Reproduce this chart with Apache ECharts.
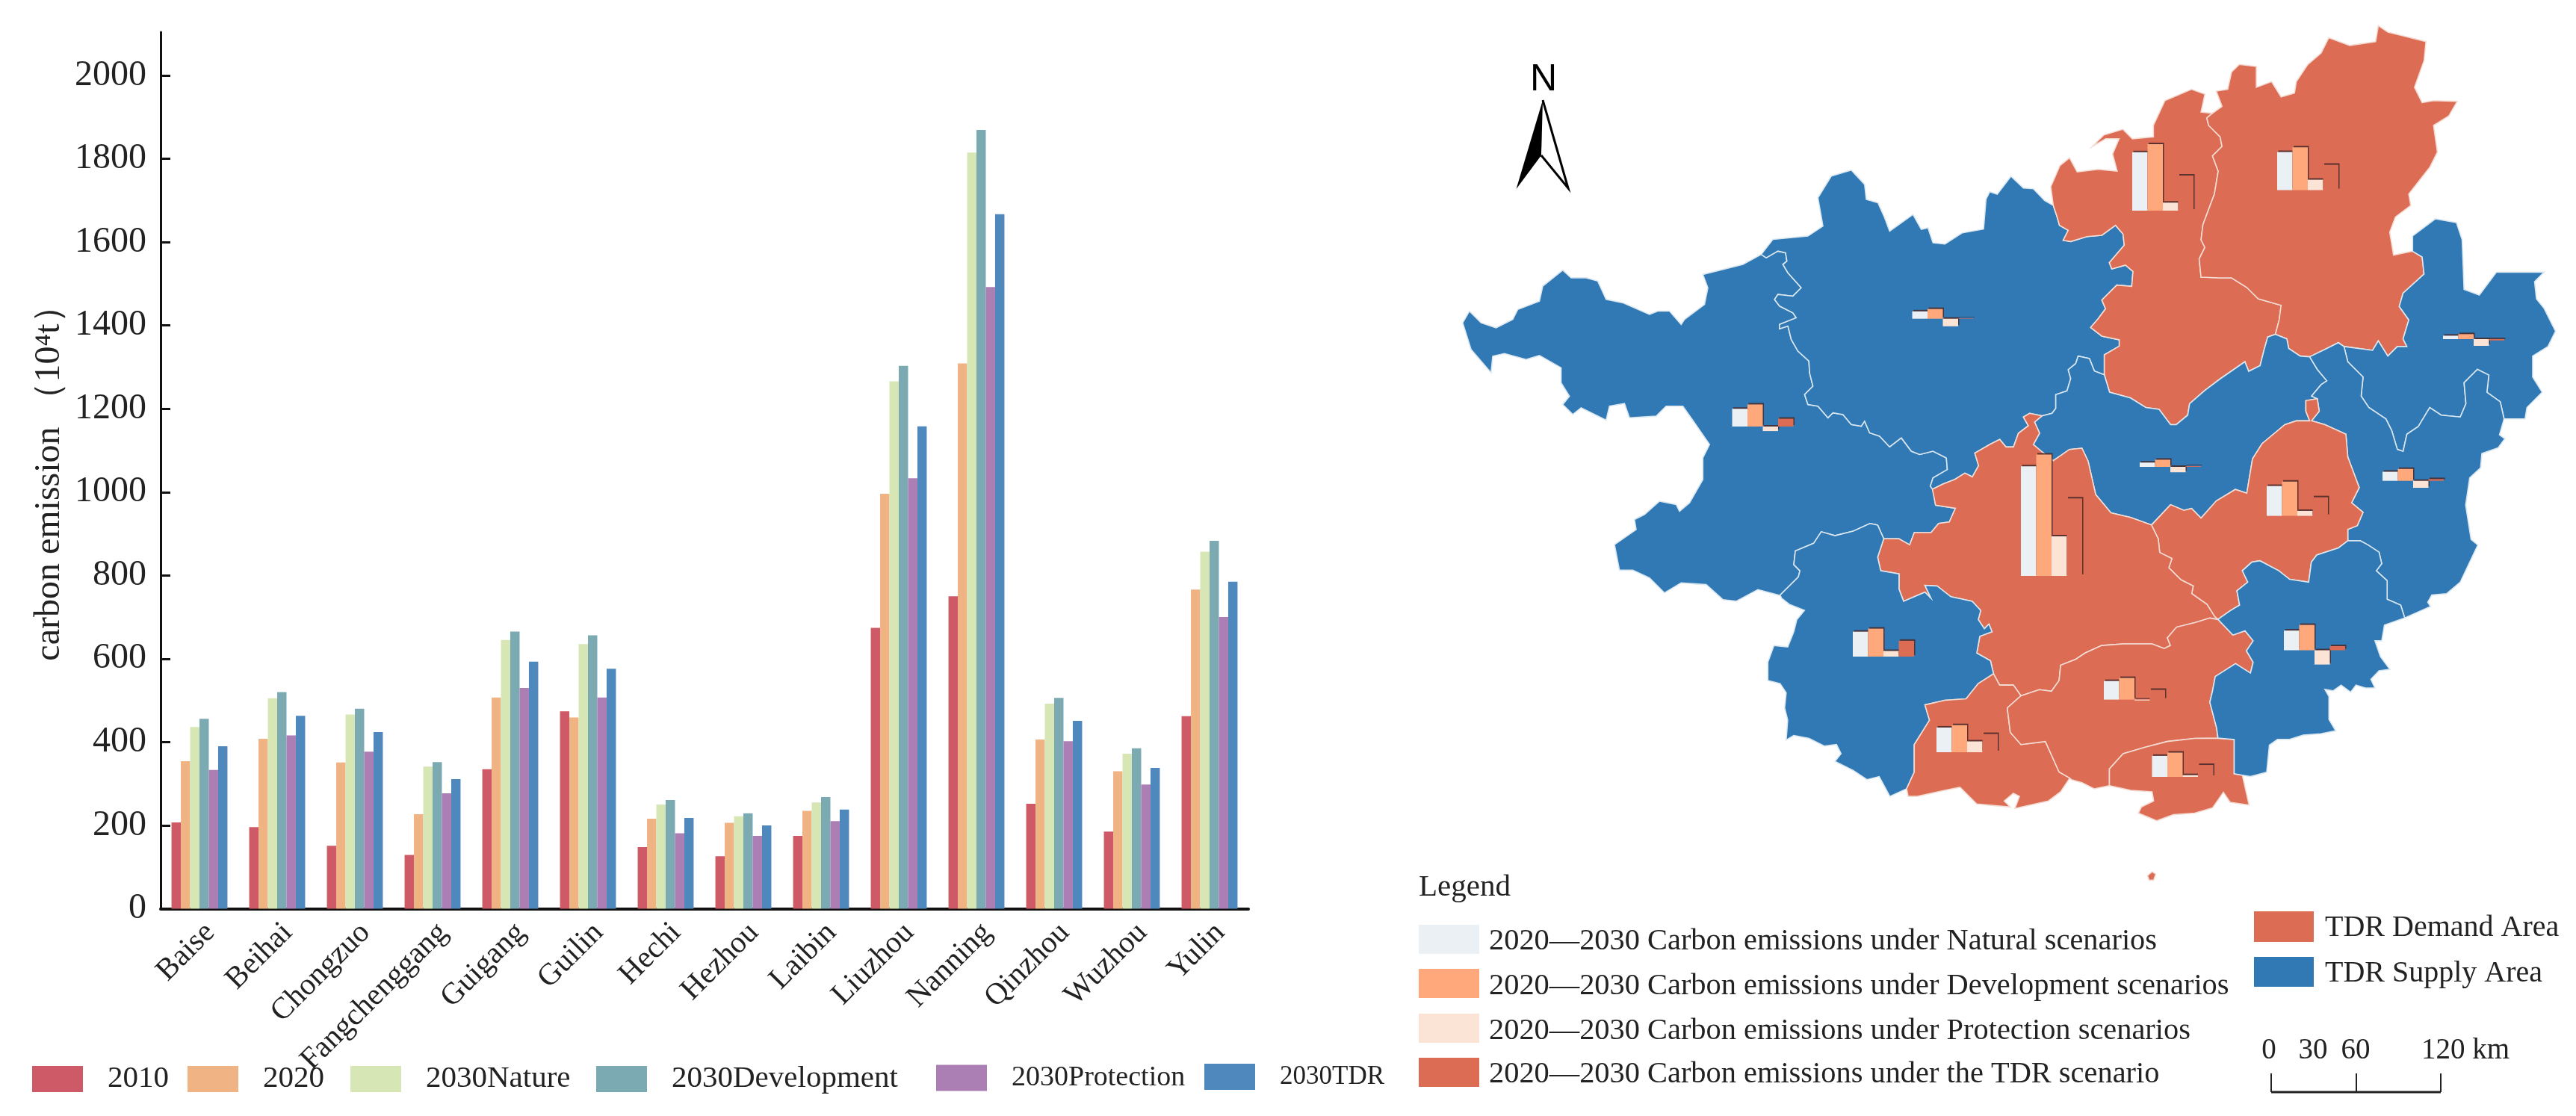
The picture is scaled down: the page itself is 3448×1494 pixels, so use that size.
<!DOCTYPE html>
<html><head><meta charset="utf-8">
<style>html,body{margin:0;padding:0;background:#fff}#c{width:3448px;height:1494px}</style>
<script src="https://cdn.jsdelivr.net/npm/echarts@6/dist/echarts.min.js"></script>
</head><body><div id="c"></div>
<script>
// ---------- chart data ----------
const categories = ['Baise','Beihai','Chongzuo','Fangchenggang','Guigang','Guilin','Hechi','Hezhou','Laibin','Liuzhou','Nanning','Qinzhou','Wuzhou','Yulin'];
const y2010 = [207,196,151,129,335,474,148,126,175,674,750,252,185,462];
const y2020 = [354,408,351,227,507,459,216,206,235,996,1309,406,330,766];
const yNature = [436,505,466,341,645,635,250,222,255,1266,1815,492,372,857];
const yDevelopment = [456,520,480,352,665,656,261,229,268,1303,1869,506,385,883];
const yProtection = [333,416,377,277,530,507,181,175,210,1033,1492,402,298,700];
const yTDR = [390,463,424,311,593,576,218,200,238,1158,1667,451,338,785];
const yTicks = [0,200,400,600,800,1000,1200,1400,1600,1800,2000];
const seriesNames = ['2010','2020','2030Nature','2030Development','2030Protection','2030TDR'];
// 2020-2030 change per city, the little bars on the map
const miniNatural = [82,97,115,114,138,176,34,16,20,270,506,86,42,91];
const miniDevelopment = [102,112,129,125,158,197,45,23,33,307,560,100,55,117];
const miniProtection = [-21,8,26,50,23,48,-35,-31,-25,37,183,-4,-32,-66];
const miniTDR = [36,55,73,84,86,117,2,-6,3,162,358,45,8,19];
const demandAreas = ['Guigang','Guilin','Liuzhou','Nanning','Qinzhou','Fangchenggang','Beihai','Island'];

// ---------- styles / layout ----------
const SERIF = '"Liberation Serif","Times New Roman",serif';
const barColors = ['#CD5A66','#F0B384','#D6E6B4','#7BAAB2','#AC7FB4','#4F88BC'];
const miniColors = ['#EAF0F4','#FFA87C','#FBE3D6','#DC6C54'];
const DEMAND = '#DC6C54', SUPPLY = '#3079B5';
const legendLeft = [38,246,464,793,1248,1607];
const legendFont = [41,41,41,41,38,35];
const miniLeft = [2318.5,2880.5,2480,2592,3034,3048,2559.5,3270,2864,2854,2705,2816,3189,3057];
const miniBase = [571,1040,879,1007,690.6,254.5,426.7,454,625,282,771,936.6,643.7,870.5];
const MINI_W = 82, MINI_SCALE = 0.29, MINI_MAX = 600, MINI_MIN = -100;

const z = (ox,oy,sx,sy) => pts => pts.map(p => [ox+p[0]/sx, oy+p[1]/sy]);
const z8 = z(1940,200,2.24,2.24), z9 = z(2640,20,1.96,1.96), z10 = z(2350,560,2.45,2.45),
      z11 = z(2880,500,2.76,2.613), z12 = z(2400,200,3,3);
const rev = a => a.slice().reverse();
const bh = z8([[935,315],[950,325],[985,305],[1008,310],[1012,335],[1000,345],[1015,370],[1055,415],[1030,440],[985,435],[975,450],[990,470],[1030,490],[1040,505],[990,525],[990,538],[1015,530],[1025,570],[1045,605],[1078,635],[1080,670],[1090,710],[1065,735],[1075,765],[1105,770],[1135,805],[1150,790],[1180,795],[1205,825],[1235,830],[1245,815],[1260,850],[1290,860],[1320,892],[1355,865],[1385,905],[1410,915],[1450,905],[1490,925],[1493,960],[1450,985],[1442,1010],[1450,1020]]);
const hn = z12([[560,1365],[600,1345],[650,1325],[690,1300],[720,1315],[745,1270],[730,1220],[790,1185],[830,1165],[855,1195],[885,1195],[905,1140],[945,1110],[925,1075],[950,1060],[1000,1070]]);
const hla = z12([[1000,1070],[1040,1060],[1055,1040],[1055,985],[1100,970],[1115,920],[1105,885],[1135,860],[1145,830],[1190,840],[1210,890],[1250,905]]);
const hliu = z12([[1045,225],[1060,270],[1070,305],[1105,325],[1085,365],[1115,370],[1180,350],[1240,345],[1295,305],[1325,340],[1330,385],[1270,455],[1280,480],[1335,465],[1365,490],[1360,550],[1300,545],[1240,605],[1255,640],[1225,680],[1195,715],[1240,750],[1310,765],[1310,790],[1250,825],[1250,905]]);
const liuLa = z12([[1250,905]]).concat(z9([[360,990],[415,1005],[455,1030],[490,1035],[520,1075],[535,1075],[565,1050],[570,1020],[610,985],[650,955],[715,910],[725,935],[755,920],[765,880],[775,845],[795,838]]));
const liuG = z9([[630,258],[615,270],[620,290],[650,320],[655,345],[630,370],[645,410],[635,470],[605,550],[600,590],[610,610],[595,640],[600,688],[650,690],[680,690],[720,715],[750,745],[810,762],[805,800],[795,838]]);
const gLa = z9([[795,838],[825,850],[830,875],[860,895],[885,897]]);
const gW = z9([[885,897],[930,875],[960,860]]);
const gHz = z9([[960,860],[975,870],[1050,880],[1065,855],[1090,895],[1115,870],[1140,870],[1130,850],[1145,800],[1120,765],[1130,730],[1185,680],[1180,635],[1155,620]]);
const gOut = z9([[1155,620],[1105,630],[1095,570],[1110,530],[1150,500],[1145,470],[1200,400],[1220,360],[1210,290],[1250,265],[1272,227],[1210,225],[1180,230],[1160,190],[1185,120],[1190,70],[1130,55],[1090,45],[1065,28],[1058,70],[990,80],[935,60],[915,100],[880,130],[850,175],[845,205],[810,215],[785,175],[745,190],[745,135],[700,130],[680,150],[670,195],[640,200],[655,240],[630,258]]);
const liuOut = z12([[1045,225],[1035,150]]).concat(z9([[230,395],[255,375],[275,412],[330,405],[380,410],[368,365],[385,325],[350,325],[315,345],[345,315],[395,300],[420,325],[475,320],[475,290],[505,225],[575,195],[610,208],[600,255],[630,258]]));
const laW = z9([[885,897],[905,930],[930,960],[915,970],[890,1000],[905,1007]]);
const laGg = z9([[905,1007],[875,1012],[875,1040],[885,1065],[850,1065],[820,1075],[760,1125],[735,1165],[720,1255],[690,1245],[640,1275],[600,1320],[575,1295],[555,1300],[520,1285],[470,1338]]);
const wGg = z9([[905,1007],[910,1040],[890,1065],[925,1075],[980,1100],[985,1160],[1000,1200],[1015,1240],[995,1280],[1025,1305],[1010,1340],[985,1350],[985,1380]]);
const ggY = z11([[725,585],[690,610],[610,635],[590,660],[580,730],[510,720],[470,690],[400,655],[370,660],[335,690],[355,730],[315,760],[325,810],[290,830],[245,860]]);
const ggN = z10([[1298,350],[1320,395],[1325,440],[1365,460],[1355,490],[1395,530],[1435,550],[1430,575],[1480,610],[1505,650],[1516,660]]);
const nLa = z12([[1000,1070],[970,1095],[990,1140],[965,1185],[1000,1215],[1045,1250],[1110,1205],[1160,1200]]).concat(z10([[1090,140],[1115,250],[1165,310],[1230,325],[1298,350]]));
const nQ = z10([[1516,660],[1490,655],[1440,670],[1380,685],[1350,720],[1360,745],[1340,755],[1300,740],[1280,740],[1205,740],[1135,745],[1080,770],[1050,790],[1000,810],[995,860],[970,895],[930,890],[870,910]]);
const nF = z10([[870,910],[845,875],[800,875],[780,838]]);
const nC = z10([[780,838],[770,795],[725,770],[735,715],[775,700],[765,675],[750,690],[730,660],[738,630],[710,600],[640,585],[595,550],[555,548],[575,590],[555,570],[485,600],[470,560],[470,510],[410,500],[400,455],[420,395]]);
const nB = z10([[420,395],[470,395],[505,415],[520,375],[575,375],[600,345],[635,340],[655,295],[590,285],[580,235]]);
const bC = z10([[420,395],[400,350],[375,345],[320,370],[260,385],[215,372],[190,410],[130,435],[125,480],[145,500],[140,520],[80,580]]);
const cF = z10([[780,838],[730,870],[690,920],[620,925],[555,940],[570,990],[520,1070],[520,1160],[495,1215]]);
const fQ = z10([[870,910],[825,950],[835,1030],[870,1070],[950,1060],[995,1160],[1030,1180]]);
const qB = z10([[1160,1205],[1160,1150],[1205,1100],[1280,1078],[1350,1060],[1440,1050],[1516,1050]]);
const qY = z11([[245,860],[265,880],[300,915],[345,900],[375,935],[350,970],[375,1010],[365,1048],[310,1015],[235,1060],[225,1110],[215,1150],[240,1240],[245,1275]]);
const bY = z11([[245,1275],[305,1280],[305,1400],[335,1405]]);
const yW = z11([[725,585],[770,585],[800,600],[840,625],[850,665],[830,690],[870,725],[870,790],[920,810],[935,855]]);
const hzW = z9([[960,860],[975,870],[985,910],[1025,950],[1020,1000],[1040,1030],[1085,1060],[1100,1090],[1115,1140],[1130,1145],[1140,1100],[1170,1080],[1200,1030],[1230,1050],[1280,1055],[1295,1020],[1290,965],[1325,930],[1355,945],[1350,990],[1385,1015],[1395,1060]]);
const hzOut = z9([[1155,620],[1155,580],[1215,535],[1270,545],[1285,590],[1290,720],[1330,735],[1345,715],[1375,675],[1500,675],[1475,700],[1480,745],[1500,770],[1530,830],[1510,870],[1470,895],[1470,950],[1495,990],[1455,1030],[1450,1060],[1395,1060]]);
const wOut = z11([[1300,160],[1285,215],[1305,228],[1280,260],[1220,280],[1215,330],[1175,365],[1160,460],[1180,580],[1205,600],[1175,660],[1140,730],[1090,770],[1035,775],[1020,800],[1030,815],[935,855]]);
const yOut = z11([[935,855],[860,880],[850,935],[825,935],[845,990],[880,1035],[840,1040],[810,1070],[825,1100],[790,1100],[755,1090],[735,1115],[700,1090],[670,1110],[640,1105],[655,1130],[655,1210],[680,1250],[625,1260],[560,1265],[510,1280],[465,1280],[435,1300],[425,1395],[365,1410],[335,1405]]);
const beihaiOut = z11([[335,1405],[360,1510],[290,1500],[265,1465]]).concat(z10([[1498,1278],[1440,1295],[1370,1300],[1315,1320],[1255,1295],[1265,1275],[1305,1255],[1300,1225],[1230,1220],[1160,1205]]));
const qOut = z10([[1160,1205],[1110,1215],[1070,1195],[1035,1185],[1030,1180]]);
const fangOut = z10([[1030,1180],[1000,1225],[960,1255],[870,1275],[850,1280],[865,1240],[845,1230],[815,1255],[835,1275],[780,1270],[725,1265],[670,1210],[620,1220],[530,1240],[500,1240],[495,1215]]);
const chongOut = z10([[495,1215],[440,1240],[405,1175],[365,1185],[320,1155],[260,1125],[280,1100],[265,1070],[225,1075],[175,1050],[125,1040],[100,1055],[105,990],[95,950],[100,900],[80,870],[40,860],[40,800],[60,745],[105,750],[125,700],[135,660],[160,630],[110,610],[85,590],[80,580]]);
const baiseOut = z8([[935,315],[880,345],[760,375],[775,415],[765,465],[705,510],[695,525],[660,485],[625,485],[600,495],[520,460],[470,450],[445,395],[410,385],[365,385],[340,362],[280,410],[270,455],[205,480],[190,510],[140,535],[95,520],[60,485],[40,520],[65,600],[125,670],[130,620],[165,612],[230,630],[270,618],[335,655],[335,700],[360,740],[340,765],[370,795],[395,775],[470,812],[480,770],[525,762],[540,805],[620,800],[650,770],[700,770],[735,820],[780,885],[760,925],[760,990],[720,1060],[690,1085],[680,1065],[630,1055],[585,1095],[555,1110],[560,1140],[495,1185],[510,1262],[550,1262],[600,1285],[645,1330],[695,1300],[770,1305],[820,1350],[860,1355],[925,1320],[988,1337]]);
const hechiOut = z8([[935,315],[970,270],[1075,260],[1120,230],[1105,145],[1145,80],[1205,62],[1245,105],[1250,150],[1285,160],[1305,205],[1320,245],[1390,195],[1415,240],[1435,235],[1450,280]]).concat(z12([[610,380],[680,335],[765,320],[775,200],[790,170],[820,180],[875,108],[925,155],[965,158],[1010,205],[1045,225]]));
const island = z10([[1285,1500],[1300,1487],[1312,1495],[1305,1515],[1290,1515]]);

const outlines = {
  Baise: [bh, rev(nB), bC, rev(baiseOut)],
  Hechi: [hechiOut, hliu, rev(hla), rev(hn), rev(bh)],
  Liuzhou: [liuOut, liuG, rev(liuLa), rev(hliu)],
  Guilin: [liuG, gLa, gW, gHz, gOut],
  Laibin: [hla, liuLa, gLa, laW, laGg, rev(nLa)],
  Hezhou: [gHz, hzOut, rev(hzW)],
  Wuzhou: [gW, hzW, wOut, rev(yW), rev(wGg), rev(laW)],
  Guigang: [wGg, ggY, rev(ggN), rev(laGg)],
  Nanning: [hn, nLa, ggN, nQ, nF, nC, nB],
  Chongzuo: [rev(nC), cF, chongOut, rev(bC)],
  Fangchenggang: [rev(nF), fQ, fangOut, rev(cF)],
  Qinzhou: [rev(nQ), qY, rev(qB), qOut, rev(fQ)],
  Beihai: [qB, bY, beihaiOut],
  Yulin: [yW, yOut, rev(bY), rev(qY), rev(ggY)],
  Island: [island]
};
const geoJson = {type:'FeatureCollection', features:Object.keys(outlines).map(name => {
  const ring = [].concat(...outlines[name]);
  ring.push(ring[0]);
  return {type:'Feature', properties:{name}, geometry:{type:'Polygon', coordinates:[ring]}};
})};
echarts.registerMap('guangxi', geoJson);

// ---------- option ----------
const mainValues = [y2010,y2020,yNature,yDevelopment,yProtection,yTDR];
const grids = [{left:215, top:43, width:1456, height:1173.5}];
const xAxes = [{
  type:'category', data:categories, gridIndex:0,
  axisLine:{lineStyle:{color:'#111',width:4}},
  axisTick:{alignWithLabel:true, inside:true, length:7, lineStyle:{color:'#111',width:3}},
  axisLabel:{interval:0, rotate:45, margin:40, padding:[0,-20,0,0], fontFamily:SERIF, fontSize:41, color:'#222'}
}];
const yAxes = [{
  type:'value', gridIndex:0, min:0, max:2104,
  axisLine:{show:true, lineStyle:{color:'#111',width:3}},
  axisTick:{show:true, inside:true, length:13, customValues:yTicks, lineStyle:{color:'#111',width:3}},
  axisLabel:{customValues:yTicks, margin:19, fontFamily:SERIF, fontSize:48, color:'#222', formatter:v => String(v)},
  splitLine:{show:false}
}];
const series = seriesNames.map((name,i) => ({
  name, type:'bar', xAxisIndex:0, yAxisIndex:0, data:mainValues[i], barGap:'0%', barCategoryGap:'28%',
  silent:true, itemStyle:{color:barColors[i]}
}));
categories.forEach((city,i) => {
  const idx = grids.length;
  grids.push({left:miniLeft[i], top:miniBase[i]-MINI_MAX*MINI_SCALE, width:MINI_W, height:(MINI_MAX-MINI_MIN)*MINI_SCALE});
  xAxes.push({type:'category', gridIndex:idx, show:false, data:['Natural','Development','Protection','TDR']});
  yAxes.push({type:'value', gridIndex:idx, show:false, min:MINI_MIN, max:MINI_MAX, splitLine:{show:false}});
  const vals = [miniNatural[i],miniDevelopment[i],miniProtection[i],miniTDR[i]];
  series.push({
    name:'change '+city, type:'bar', xAxisIndex:idx, yAxisIndex:idx, silent:true, barCategoryGap:'0%', z:5,
    data:vals.map((v,k) => ({value:v, itemStyle:{color:miniColors[k]}})),
    itemStyle:{shadowColor:'rgba(70,40,40,0.85)', shadowOffsetX:1.5, shadowOffsetY:-2, shadowBlur:0}
  });
});

const T = (text,x,y,size,extra) => ({type:'text', silent:true, x, y, style:Object.assign({text, fontFamily:SERIF, fontSize:size, fill:'#222', textVerticalAlign:'middle'}, extra||{})});
const R = (x,y,w,h,fill) => ({type:'rect', silent:true, shape:{x,y,width:w,height:h}, style:{fill}});
const L = (x1,y1,x2,y2,w) => ({type:'line', silent:true, shape:{x1,y1,x2,y2}, style:{stroke:'#222', lineWidth:w}});
const mapLegend = [
  ['2020—2030 Carbon emissions under Natural scenarios',1238,1260,miniColors[0]],
  ['2020—2030 Carbon emissions under Development scenarios',1297,1320,miniColors[1]],
  ['2020—2030 Carbon emissions under Protection scenarios',1357,1380,miniColors[2]],
  ['2020—2030 Carbon emissions under the TDR scenario',1416,1438,miniColors[3]]
];
const graphicEls = [
  {type:'text', silent:true, x:66, y:635, rotation:Math.PI/2, style:{text:'carbon emission （10⁴t）', fontFamily:SERIF, fontSize:48, fill:'#222', textAlign:'center', textVerticalAlign:'middle'}},
  T('Legend',1899,1188,41),
  R(3017,1220,80,41,DEMAND), T('TDR Demand Area',3112,1242,40),
  R(3017,1281,80,40,SUPPLY), T('TDR Supply Area',3112,1303,40),
  T('0',3037,1407,39,{textAlign:'center'}), T('30',3096,1407,39,{textAlign:'center'}), T('60',3153,1407,39,{textAlign:'center'}), T('120 km',3241,1407,39),
  L(3040,1462,3267,1462,3), L(3040,1437,3040,1462,2), L(3154,1437,3154,1462,2), L(3267,1437,3267,1462,2),
  T('N',2066,107,50,{fontFamily:'"Liberation Sans Narrow","Liberation Sans",sans-serif', fill:'#000', textAlign:'center'}),
  {type:'polygon', silent:true, shape:{points:[[2065,134],[2029.5,253],[2063,208],[2066,170]]}, style:{fill:'#000'}},
  {type:'polyline', silent:true, shape:{points:[[2065,134],[2099,252],[2063,208]]}, style:{stroke:'#000', fill:'#fff', lineWidth:3}}
];
mapLegend.forEach(m => { graphicEls.push(R(1899,m[1],81,39,m[3])); graphicEls.push(T(m[0],1993,m[2],40.4)); });

const option = {
  animation:false, backgroundColor:'#fff',
  legend: seriesNames.map((n,i) => ({
    data:[n], left:legendLeft[i], top:1419, itemWidth:68, itemHeight:35, icon:'rect', selectedMode:false,
    textStyle:{fontFamily:SERIF, fontSize:legendFont[i], color:'#222', padding:[0,0,0,28]}
  })),
  grid:grids, xAxis:xAxes, yAxis:yAxes,
  geo:{
    map:'guangxi', silent:true, roam:false, left:0, top:0, width:3448, height:1494,
    boundingCoords:[[0,0],[3448,1494]],
    projection:{project:p => [p[0],p[1]], unproject:p => [p[0],p[1]]},
    label:{show:false},
    itemStyle:{areaColor:SUPPLY, borderColor:'#dbe7ef', borderWidth:1.6},
    regions:demandAreas.map(name => ({name, itemStyle:{areaColor:DEMAND, borderColor:'#f3dcd3'}}))
  },
  series, graphic:{elements:graphicEls}
};
const chart = echarts.init(document.getElementById('c'), null, {renderer:'canvas'});
chart.setOption(option);
</script></body></html>
